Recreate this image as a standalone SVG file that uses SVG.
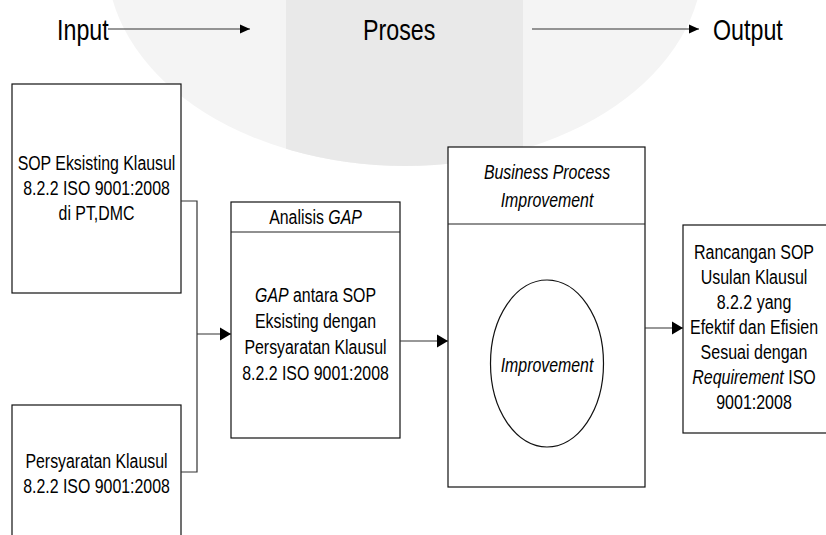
<svg xmlns="http://www.w3.org/2000/svg" width="826" height="535" viewBox="0 0 826 535">
<style>
text{font-family:"Liberation Sans",Arial,sans-serif;fill:#000;}
.top{font-size:30px;}
.body{font-size:20px;text-anchor:middle;}
.it{font-style:italic;}
.box{fill:#fff;stroke:#111;stroke-width:1.2;}
.ln{fill:none;stroke:#222;stroke-width:1.2;}
.conn{fill:none;stroke:#333;stroke-width:1.2;}
</style>
<defs>
<marker id="ah" markerUnits="userSpaceOnUse" markerWidth="12" markerHeight="14" refX="11" refY="7" orient="auto">
<path d="M0,0.5 L11,7 L0,13.5 Z" fill="#000"/>
</marker>
<marker id="ahs" markerUnits="userSpaceOnUse" markerWidth="11" markerHeight="10" refX="10" refY="5" orient="auto">
<path d="M0,0.5 L10,5 L0,9.5 Z" fill="#000"/>
</marker>
<clipPath id="bowl"><ellipse cx="405" cy="-40" rx="298" ry="206"/></clipPath>
</defs>
<rect width="826" height="535" fill="#fff"/>
<g id="watermark">
<ellipse cx="405" cy="-40" rx="298" ry="206" fill="#f4f4f4"/>
<rect x="286" y="0" width="237" height="200" fill="#e9e9e9" clip-path="url(#bowl)"/>
</g>
<g id="header">
<text class="top" transform="translate(57,40) scale(0.775,1)">Input</text>
<text class="top" transform="translate(363,40) scale(0.775,1)">Proses</text>
<text class="top" transform="translate(713,40) scale(0.775,1)">Output</text>
</g>
<g id="sop-eksisting">
<rect class="box" x="12" y="84" width="169" height="209"/>
<text class="body" transform="translate(96.5,170) scale(0.795,1)">SOP Eksisting Klausul</text>
<text class="body" transform="translate(96.5,195) scale(0.795,1)">8.2.2 ISO 9001:2008</text>
<text class="body" transform="translate(96.5,220) scale(0.795,1)">di PT,DMC</text>
</g>
<g id="persyaratan">
<rect class="box" x="12" y="405" width="169" height="137"/>
<text class="body" transform="translate(96.5,468) scale(0.795,1)">Persyaratan Klausul</text>
<text class="body" transform="translate(96.5,493) scale(0.795,1)">8.2.2 ISO 9001:2008</text>
</g>
<g id="analisis-gap">
<rect class="box" x="231" y="202" width="169" height="236"/>
<line class="ln" x1="231" y1="232" x2="400" y2="232"/>
<text class="body" transform="translate(315.5,224) scale(0.795,1)">Analisis <tspan class="it">GAP</tspan></text>
<text class="body" transform="translate(315.5,302) scale(0.795,1)"><tspan class="it">GAP</tspan> antara SOP</text>
<text class="body" transform="translate(315.5,328) scale(0.795,1)">Eksisting dengan</text>
<text class="body" transform="translate(315.5,354) scale(0.795,1)">Persyaratan Klausul</text>
<text class="body" transform="translate(315.5,380) scale(0.795,1)">8.2.2 ISO 9001:2008</text>
</g>
<g id="bpi">
<rect class="box" x="448" y="147" width="197" height="340"/>
<line class="ln" x1="448" y1="224" x2="645" y2="224"/>
<text class="body it" transform="translate(547,179) scale(0.795,1)">Business Process</text>
<text class="body it" transform="translate(547,207) scale(0.795,1)">Improvement</text>
<ellipse class="box" cx="547" cy="363.5" rx="56.5" ry="83.5"/>
<text class="body it" transform="translate(547,372) scale(0.795,1)">Improvement</text>
</g>
<g id="rancangan">
<rect class="box" x="683" y="225" width="150" height="208"/>
<text class="body" transform="translate(754,259) scale(0.8,1)">Rancangan SOP</text>
<text class="body" transform="translate(754,284) scale(0.8,1)">Usulan Klausul</text>
<text class="body" transform="translate(754,309) scale(0.8,1)">8.2.2 yang</text>
<text class="body" transform="translate(754,334) scale(0.8,1)">Efektif dan Efisien</text>
<text class="body" transform="translate(754,359) scale(0.8,1)">Sesuai dengan</text>
<text class="body" transform="translate(754,384) scale(0.8,1)"><tspan class="it">Requirement</tspan> ISO</text>
<text class="body" transform="translate(754,409) scale(0.8,1)">9001:2008</text>
</g>
<g id="connectors">
<path class="conn" d="M108 29 H250" marker-end="url(#ahs)"/>
<path class="conn" d="M532 29 H699" marker-end="url(#ahs)"/>
<path class="conn" d="M181 201 H197 V472 H181"/>
<path class="conn" d="M197 334 H231" marker-end="url(#ah)"/>
<path class="conn" d="M400 341 H448" marker-end="url(#ah)"/>
<path class="conn" d="M645 328 H683" marker-end="url(#ah)"/>
</g>
</svg>
